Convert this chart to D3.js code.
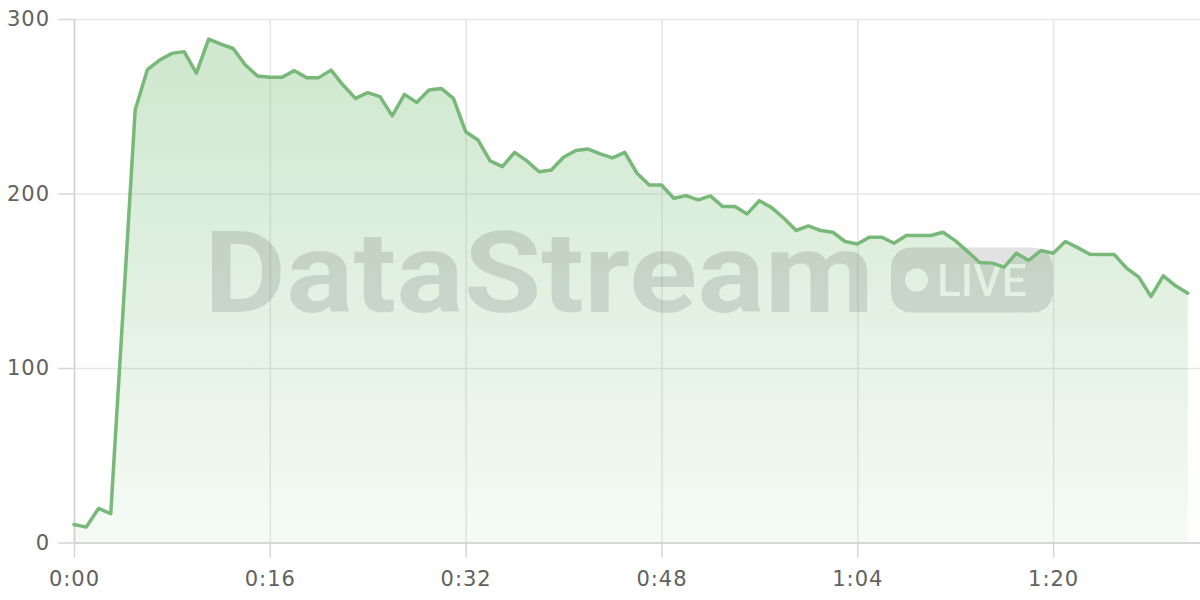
<!DOCTYPE html>
<html><head><meta charset="utf-8">
<script src="https://cdn.jsdelivr.net/npm/d3@7"></script>
<style>
html,body{margin:0;padding:0;background:#fff;}
svg{display:block;}
</style></head>
<body>
<div id="chart"></div>
<script>
// time in seconds
const times = d3.range(0, 92);
const values = [
  10.3, 8.8, 19.5, 16.5, 132, 248, 271, 276.5, 280.3, 281.3,
  269, 288.5, 285.6, 283.1, 273.6, 267.3, 266.6, 266.6, 270.4, 266.4,
  266.4, 270.7, 262, 254.5, 257.8, 255.5, 244.5, 256.8, 252.2, 259.3,
  260.2, 254.5, 235.4, 230.7, 218.7, 215.4, 223.6, 218.7, 212.5, 213.5,
  220.8, 224.6, 225.5, 222.7, 220.4, 223.6, 211.6, 204.9, 204.9, 197.3,
  198.8, 196.3, 198.6, 192.5, 192.5, 188.3, 195.9, 191.9, 185.8, 178.8,
  181.4, 178.8, 177.8, 172.5, 171.1, 175, 175, 171.5, 175.9, 175.9,
  175.9, 177.8, 173, 166.8, 160.5, 160.1, 157.8, 165.8, 161.6, 167.3,
  165.8, 172.5, 169, 165.2, 165, 165, 157.2, 152.1, 141, 152.8,
  147.1, 142.9
];
const xTicks = [0, 16, 32, 48, 64, 80];
const yTicks = [0, 100, 200, 300];
const watermarkText = "DataStream";
const badgeText = "LIVE";

const data = times.map((t, i) => ({t, v: values[i]}));

const W = 1200, H = 600;
const mL = 74, mR = 1200, mT = 19, mB = 542.5;

const svg = d3.select("#chart").append("svg").attr("width", W).attr("height", H);

const x = d3.scaleLinear().domain([0, 92]).range([mL, mR]);
const y = d3.scaleLinear().domain([0, 300]).range([mB, mT]);

const fmt = s => Math.floor(s / 60) + ":" + String(s % 60).padStart(2, "0");

const defs = svg.append("defs");
const grad = defs.append("linearGradient").attr("id", "fillGrad")
  .attr("gradientUnits", "userSpaceOnUse")
  .attr("x1", 0).attr("x2", 0).attr("y1", y(290)).attr("y2", y(0));
grad.append("stop").attr("offset", 0).attr("stop-color", "rgb(118,188,118)").attr("stop-opacity", 0.36);
grad.append("stop").attr("offset", 1).attr("stop-color", "rgb(118,188,118)").attr("stop-opacity", 0.07);

// grid
const grid = svg.append("g");
grid.append("g").attr("transform", `translate(${mL},0)`)
  .call(d3.axisLeft(y).tickValues(yTicks).tickSize(-(mR - mL)).tickFormat(""))
  .call(g => g.select(".domain").remove())
  .call(g => g.selectAll("line").attr("stroke", "#e6e6e6").attr("stroke-width", 1.5));
grid.append("g").attr("transform", `translate(0,${mB})`)
  .call(d3.axisBottom(x).tickValues(xTicks).tickSize(-(mB - mT)).tickFormat(""))
  .call(g => g.select(".domain").remove())
  .call(g => g.selectAll("line").attr("stroke", "#e6e6e6").attr("stroke-width", 1.5));

// area
const area = d3.area().x(d => x(d.t)).y0(y(0)).y1(d => y(d.v));
svg.append("path").datum(data).attr("d", area).attr("fill", "url(#fillGrad)");

// axes
const labelFont = "'DejaVu Sans', sans-serif";
const yAxis = svg.append("g").attr("transform", `translate(${mL},0)`)
  .call(d3.axisLeft(y).tickValues(yTicks).tickSize(16).tickSizeOuter(0).tickPadding(8));
const xAxis = svg.append("g").attr("transform", `translate(0,${mB})`)
  .call(d3.axisBottom(x).tickValues(xTicks).tickFormat(fmt).tickSize(15).tickSizeOuter(0).tickPadding(14));
[yAxis, xAxis].forEach(a => {
  a.select(".domain").attr("stroke", "#d0d0d0").attr("stroke-width", 1.5);
  a.selectAll(".tick line").attr("stroke", "#d6d6d6").attr("stroke-width", 1.5);
  a.selectAll("text").attr("fill", "#616161").style("font-family", labelFont)
    .style("font-size", "21px").style("letter-spacing", "1px");
});

// watermark
const wm = svg.append("g").attr("pointer-events", "none");
wm.append("text").text(watermarkText)
  .attr("x", 204).attr("y", 312)
  .attr("textLength", 670).attr("lengthAdjust", "spacingAndGlyphs")
  .style("font-family", "Roboto, sans-serif").style("font-weight", 700)
  .style("font-size", "114px").attr("fill", "#000").attr("fill-opacity", 0.115);

const mask = defs.append("mask").attr("id", "badgeMask");
mask.append("rect").attr("x", 0).attr("y", 0).attr("width", W).attr("height", H).attr("fill", "#fff");
mask.append("circle").attr("cx", 916.5).attr("cy", 280).attr("r", 11.5).attr("fill", "#000");
mask.append("text").text(badgeText).attr("x", 937).attr("y", 295.5)
  .style("font-family", "Roboto, sans-serif").style("font-weight", 500)
  .style("font-size", "44px").attr("fill", "#000");
wm.append("rect").attr("x", 891).attr("y", 247.5).attr("width", 162).attr("height", 65)
  .attr("rx", 20).attr("fill", "#000").attr("fill-opacity", 0.115).attr("mask", "url(#badgeMask)");

// line
const line = d3.line().x(d => x(d.t)).y(d => y(d.v));
svg.append("path").datum(data).attr("d", line)
  .attr("fill", "none").attr("stroke", "#78b878").attr("stroke-width", 3.5)
  .attr("stroke-linejoin", "round").attr("stroke-linecap", "round");
</script>
</body></html>
